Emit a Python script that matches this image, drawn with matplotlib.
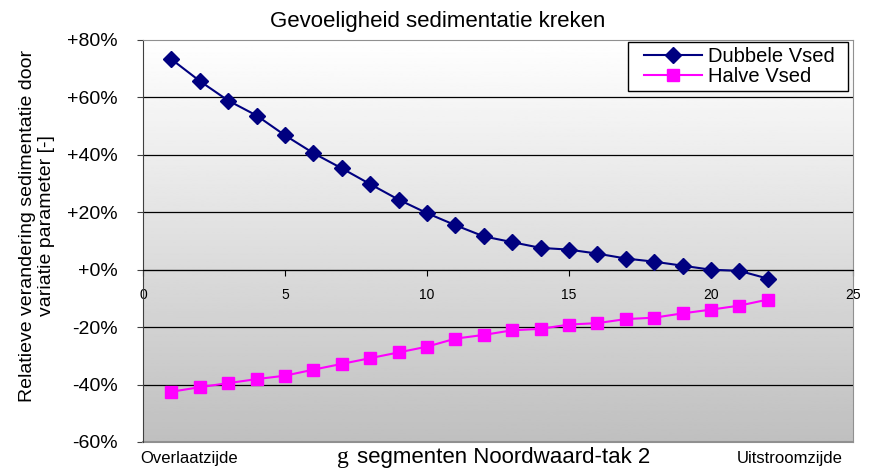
import numpy as np
import matplotlib.pyplot as plt
from matplotlib.patches import Rectangle
from matplotlib.ticker import FuncFormatter

# data
segment = np.arange(1, 23)
dubbele_vsed = [73.3, 65.7, 58.9, 53.7, 46.8, 40.6, 35.3, 29.8, 24.4, 19.7, 15.5, 11.6,
                9.6, 7.6, 7.0, 5.6, 3.9, 2.8, 1.4, 0.0, -0.4, -3.1]
halve_vsed = [-42.5, -40.9, -39.5, -38.1, -36.9, -34.8, -32.8, -30.8, -28.8, -26.8, -24.0, -22.7,
              -21.1, -20.6, -19.1, -18.6, -17.2, -16.7, -15.2, -13.9, -12.5, -10.4]
y_ticks = [-60, -40, -20, 0, 20, 40, 60, 80]
x_ticks = [0, 5, 10, 15, 20, 25]

plt.rcParams['font.family'] = ['Liberation Sans', 'DejaVu Sans']

W, H = 869, 468
fig = plt.figure(figsize=(W/100, H/100), dpi=100)
ax = fig.add_axes([143/W, 1-442/H, 710/W, 402/H])

# grey gradient background of the plot area
grad = np.linspace(1.0, 0.75, 256).reshape(-1, 1)
ax.imshow(grad, cmap='gray', vmin=0, vmax=1, extent=[0, 1, 0, 1], transform=ax.transAxes,
          aspect='auto', zorder=0)

ax.set_xlim(0, 25)
ax.set_ylim(-60, 80)

for y in y_ticks[1:-1]:
    ax.axhline(y, color='black', lw=0.9, zorder=1)

ax.plot(segment, dubbele_vsed, color='#000080', marker='D', markersize=8.5, lw=1.5,
        label='Dubbele Vsed', zorder=3)
ax.plot(segment, halve_vsed, color='#ff00ff', marker='s', markersize=8, lw=1.5,
        label='Halve Vsed', zorder=3)

ax.set_yticks(y_ticks)
ax.yaxis.set_major_formatter(FuncFormatter(lambda v, p: f'{v:+.0f}%'.replace('+-', '-')))
ax.tick_params(axis='y', labelsize=14, direction='out', length=4, pad=14, color='#404040')

ax.spines['bottom'].set_position(('data', 0))
ax.spines['bottom'].set_color('black')
ax.set_xticks(x_ticks)
ax.tick_params(axis='x', labelsize=10, direction='out', length=4, pad=9)
for s in ['top', 'right']:
    ax.spines[s].set_color('#909090')
ax.spines['left'].set_color('#404040')

# outer border at the bottom of the plot area
ax.plot([0, 1], [0, 0], transform=ax.transAxes, color='#909090', lw=1.5, clip_on=False)

fig.text(438/W, 1-21/H, 'Gevoeligheid sedimentatie kreken', fontsize=16, ha='center', va='center')
fig.text(37/W, 1-226/H, 'Relatieve verandering sedimentatie door\nvariatie parameter [-]',
         fontsize=14, rotation=90, ha='center', va='center', multialignment='center',
         linespacing=1.1)

# legend box drawn by hand so the padding can differ left and right
ax.add_patch(Rectangle((628/W, 1-91/H), 220/W, 49/H, transform=fig.transFigure,
                       facecolor='white', edgecolor='black', lw=1.0, zorder=4, clip_on=False))
leg = ax.legend(loc='upper right', bbox_to_anchor=(837/W, 1-45/H), bbox_transform=fig.transFigure,
                fontsize=14.5, frameon=False, borderaxespad=0, handlelength=2.9,
                handletextpad=0.3, borderpad=0.1, labelspacing=0.05)
leg.set_zorder(5)

fig.text(140/W, 1-459/H, 'Overlaatzijde', fontsize=12, va='center', ha='left')
fig.text(337/W, 1-458/H, 'g', fontsize=17, va='center', ha='left', family='Liberation Serif')
fig.text(357/W, 1-458/H, 'segmenten Noordwaard-tak 2', fontsize=16, va='center', ha='left')
fig.text(843/W, 1-459/H, 'Uitstroomzijde', fontsize=12, va='center', ha='right')

fig.savefig('out.png', dpi=100)
